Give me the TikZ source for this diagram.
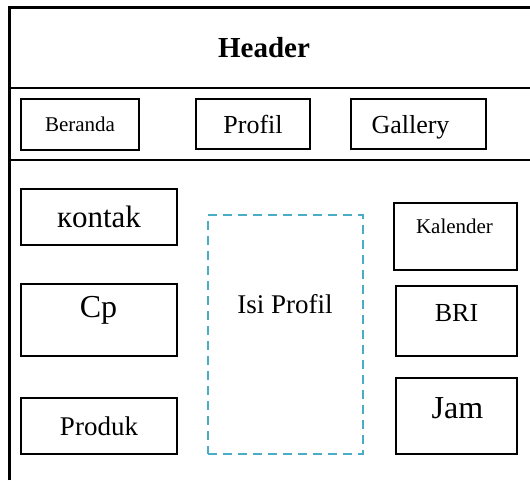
\documentclass[tikz,border=0pt]{standalone}
\usepackage{fontspec}
\setmainfont{Liberation Serif}
\usetikzlibrary{positioning}
\definecolor{isiblue}{HTML}{4BACC6}
\newcommand{\fsz}[1]{\fontsize{#1}{#1}\selectfont}
\tikzset{
    menubox/.style={rectangle,draw,line width=2pt,inner sep=0pt},
    isibox/.style={rectangle,draw=isiblue,line width=2pt,dash pattern=on 9pt off 6pt,inner sep=0pt},
    txt/.style={anchor=base,inner sep=0pt}
}

\begin{document}
\begin{tikzpicture}[x=1pt,y=-1pt]
        \useasboundingbox (0,0) rectangle (530,480);

        % frame
        \draw[line width=3pt] (9,480) -- (9,7) -- (530,7);
        \draw[line width=2pt] (9,88) -- (530,88);
        \draw[line width=2pt] (9,160) -- (530,160);
        \node[font=\bfseries\fsz{29}] (header) at (264,48) {Header};

        % menu
        \node[menubox,minimum width=118,minimum height=51,font=\fsz{21}] (beranda) at (80,124) {Beranda};
        \node[menubox,minimum width=114,minimum height=50,font=\fsz{26}] (profil) at (253,124) {Profil};
        \node[menubox,minimum width=135,minimum height=50] (gallery) at (418.5,124) {};
        \node[txt,font=\fsz{26}] (gallery-t) at (410.5,133) {Gallery};

        % left column
        \node[menubox,minimum width=156,minimum height=56,font=\fsz{31}] (kontak) at (99,217) {кontak};
        \node[menubox,minimum width=156,minimum height=72] (cp) at (99,320) {};
        \node[txt,font=\fsz{32}] (cp-t) at (98.5,317) {Cp};
        \node[menubox,minimum width=156,minimum height=56,font=\fsz{27}] (produk) at (99,426) {Produk};

        % content
        \node[isibox,minimum width=155,minimum height=239] (isi) at (285.5,334.5) {};
        \node[txt,font=\fsz{27}] (isi-t) at (285,313) {Isi Profil};

        % right column
        \node[menubox,minimum width=123,minimum height=67] (kalender) at (455.5,236.5) {};
        \node[txt,font=\fsz{21}] (kalender-t) at (454.5,233) {Kalender};
        \node[menubox,minimum width=121,minimum height=70] (bri) at (456.5,321) {};
        \node[txt,font=\fsz{26}] (bri-t) at (456.5,321) {BRI};
        \node[menubox,minimum width=121,minimum height=76] (jam) at (456.5,416) {};
        \node[txt,font=\fsz{32}] (jam-t) at (457.5,418) {Jam};

    \end{tikzpicture}
\end{document}
